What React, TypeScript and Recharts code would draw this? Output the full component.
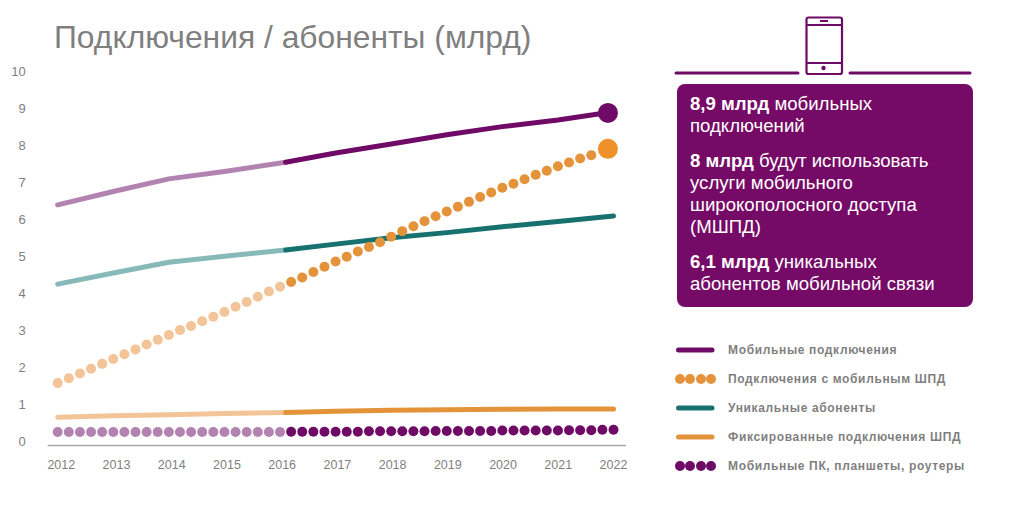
import { ComposedChart, Line, XAxis, YAxis, ReferenceDot } from "recharts";

const PURPLE = "#6F0B66";
const PURPLE_LIGHT = "#B283B0";
const ORANGE = "#E5933A";
const ORANGE_LIGHT = "#F2C497";
const TEAL = "#17716F";
const TEAL_LIGHT = "#86B9B8";
const GREY = "#7F7F7F";

const yearTicks = [2012, 2013, 2014, 2015, 2016, 2017, 2018, 2019, 2020, 2021, 2022];
const valueTicks = [0, 1, 2, 3, 4, 5, 6, 7, 8, 9, 10];

// yearly series (the colour changes just after 2016)
const lineYears = [2012, 2013, 2014, 2015, 2016.1, 2017, 2018, 2019, 2020, 2021, 2022];
const connections = [6.39, 6.75, 7.09, 7.29, 7.54, 7.79, 8.03, 8.28, 8.5, 8.68, 8.9];
const uniqueSubs = [4.25, 4.55, 4.84, 5.0, 5.17, 5.33, 5.5, 5.64, 5.8, 5.94, 6.09];
const fixedBroadband = [0.66, 0.7, 0.73, 0.76, 0.79, 0.82, 0.85, 0.865, 0.875, 0.88, 0.88];
const splitIndex = 4;

// dotted series, five readings per year
const dotYears = [
  2012, 2012.2, 2012.4, 2012.6, 2012.8, 2013, 2013.2, 2013.4, 2013.6, 2013.8,
  2014, 2014.2, 2014.4, 2014.6, 2014.8, 2015, 2015.2, 2015.4, 2015.6, 2015.8,
  2016, 2016.2, 2016.4, 2016.6, 2016.8, 2017, 2017.2, 2017.4, 2017.6, 2017.8,
  2018, 2018.2, 2018.4, 2018.6, 2018.8, 2019, 2019.2, 2019.4, 2019.6, 2019.8,
  2020, 2020.2, 2020.4, 2020.6, 2020.8, 2021, 2021.2, 2021.4, 2021.6, 2021.8, 2022,
];
const mobileBroadband = [
  1.58, 1.71, 1.84, 1.97, 2.1, 2.23, 2.36, 2.49, 2.62, 2.75,
  2.88, 3.01, 3.12, 3.25, 3.37, 3.5, 3.64, 3.77, 3.91, 4.05,
  4.18, 4.31, 4.43, 4.58, 4.72, 4.86, 4.99, 5.13, 5.25, 5.38,
  5.53, 5.68, 5.81, 5.95, 6.08, 6.21, 6.34, 6.47, 6.6, 6.72,
  6.85, 6.96, 7.08, 7.2, 7.31, 7.43, 7.53, 7.64, 7.73, null, null,
];
const mobilePc = [
  0.26, 0.26, 0.26, 0.26, 0.26, 0.26, 0.26, 0.26, 0.26, 0.26,
  0.26, 0.26, 0.26, 0.26, 0.26, 0.26, 0.26, 0.26, 0.26, 0.26,
  0.26, 0.27, 0.27, 0.27, 0.27, 0.27, 0.27, 0.27, 0.28, 0.28,
  0.28, 0.28, 0.28, 0.28, 0.29, 0.29, 0.29, 0.29, 0.29, 0.29,
  0.3, 0.3, 0.3, 0.3, 0.3, 0.3, 0.31, 0.31, 0.31, 0.32, 0.32,
];
const dotSplit = 21;

const endConnections = { x: 2021.9, y: 8.87 };
const endBroadband = { x: 2021.9, y: 7.9 };

const title = "Подключения / абоненты (млрд)";

const panelParagraphs = [
  { bold: "8,9 млрд", lines: [" мобильных", "подключений"] },
  { bold: "8 млрд", lines: [" будут использовать", "услуги мобильного", "широкополосного доступа", "(МШПД)"] },
  { bold: "6,1 млрд", lines: [" уникальных", "абонентов мобильной связи"] },
];

const legendItems = [
  { label: "Мобильные подключения", color: PURPLE, kind: "line" },
  { label: "Подключения с мобильным ШПД", color: ORANGE, kind: "dots" },
  { label: "Уникальные абоненты", color: TEAL, kind: "line" },
  { label: "Фиксированные подключения ШПД", color: ORANGE, kind: "line" },
  { label: "Мобильные ПК, планшеты, роутеры", color: PURPLE, kind: "dots" },
];

const pick = (arr: number[], i: number, from: number, to: number) => (i >= from && i <= to ? arr[i] : undefined);

const lineRows = lineYears.map((x, i) => ({
  x,
  connPast: pick(connections, i, 0, splitIndex),
  connNext: pick(connections, i, splitIndex, 99),
  subsPast: pick(uniqueSubs, i, 0, splitIndex),
  subsNext: pick(uniqueSubs, i, splitIndex, 99),
  fixedPast: pick(fixedBroadband, i, 0, splitIndex),
  fixedNext: pick(fixedBroadband, i, splitIndex, 99),
}));

const dotRows = dotYears.map((x, i) => ({
  x,
  mbbPast: i < dotSplit ? mobileBroadband[i] : null,
  mbbNext: i >= dotSplit ? mobileBroadband[i] : null,
  pcPast: i < dotSplit ? mobilePc[i] : null,
  pcNext: i >= dotSplit ? mobilePc[i] : null,
}));

const font = '"Liberation Sans"';

function YearTick(props: any) {
  const { x, y, payload } = props;
  // labels sit slightly tighter than the data positions
  const nudge = (2022 - payload.value) * 0.36;
  return (
    <text x={x + nudge} y={y} textAnchor="middle" dominantBaseline="central" fontSize={12.5} fill={GREY} fontFamily={font}>
      {payload.value}
    </text>
  );
}

function solid(key: string, color: string) {
  return (
    <Line
      key={key}
      data={lineRows}
      dataKey={key}
      stroke={color}
      strokeWidth={5}
      strokeLinecap="round"
      dot={false}
      activeDot={false}
      connectNulls={false}
      isAnimationActive={false}
    />
  );
}

function dotted(key: string, color: string) {
  return (
    <Line
      key={key}
      data={dotRows}
      dataKey={key}
      stroke="none"
      dot={{ r: 5, fill: color, stroke: "none" }}
      activeDot={false}
      isAnimationActive={false}
    />
  );
}

function Phone() {
  return (
    <svg width={1009} height={90} style={{ position: "absolute", left: 0, top: 0 }}>
      <g stroke={PURPLE} fill="none">
        <rect x={806.5} y={17.5} width={35.5} height={56.5} rx={2} strokeWidth={2.2} />
        <line x1={806} y1={25} x2={842} y2={25} strokeWidth={2} />
        <line x1={806} y1={63} x2={842} y2={63} strokeWidth={2} />
        <line x1={820} y1={21} x2={828} y2={21} strokeWidth={2} />
        <line x1={676} y1={73} x2={798} y2={73} strokeWidth={3} strokeLinecap="round" />
        <line x1={850} y1={73} x2={970} y2={73} strokeWidth={3} strokeLinecap="round" />
      </g>
      <circle cx={823.5} cy={68} r={2.2} fill={PURPLE} />
    </svg>
  );
}

function Panel() {
  return (
    <div
      style={{
        position: "absolute",
        left: 677,
        top: 84,
        width: 296,
        height: 223,
        boxSizing: "border-box",
        padding: "9px 0 0 13px",
        background: "#750B66",
        borderRadius: 8,
        color: "#fff",
        fontFamily: font,
        fontSize: 18.6,
        lineHeight: "22px",
      }}
    >
      {panelParagraphs.map((p) => (
        <div key={p.bold} style={{ marginBottom: 13 }}>
          {p.lines.map((l, i) => (
            <div key={l} style={{ whiteSpace: "pre" }}>
              {i === 0 ? <b>{p.bold}</b> : null}
              {l}
            </div>
          ))}
        </div>
      ))}
    </div>
  );
}

function LegendBlock() {
  return (
    <div style={{ position: "absolute", left: 675, top: 335 }}>
      {legendItems.map((item) => (
        <div key={item.label} style={{ display: "flex", alignItems: "center", height: 29.2 }}>
          <svg width={53} height={12}>
            {item.kind === "line" ? (
              <line x1={3.5} y1={6} x2={37} y2={6} stroke={item.color} strokeWidth={5} strokeLinecap="round" />
            ) : (
              [5, 15, 26, 36].map((cx) => <circle key={cx} cx={cx} cy={6} r={5} fill={item.color} />)
            )}
          </svg>
          <span style={{ fontFamily: font, fontWeight: 700, fontSize: 12, letterSpacing: 0.65, color: GREY, whiteSpace: "nowrap" }}>
            {item.label}
          </span>
        </div>
      ))}
    </div>
  );
}

export default function App() {
  return (
    <div style={{ position: "absolute", left: 0, top: 0, width: 1009, height: 512, background: "#fff" }}>
      <ComposedChart width={1009} height={512} margin={{ top: 71, right: 383, bottom: 26.6, left: 0 }}>
        <XAxis
          xAxisId={0}
          type="number"
          dataKey="x"
          domain={[2012, 2022]}
          ticks={yearTicks}
          padding={{ left: 10, right: 12.5 }}
          height={40}
          tickLine={false}
          axisLine={{ stroke: "#A6A6A6", strokeWidth: 1.5 }}
          tickSize={0}
          tick={<YearTick />}
          tickMargin={20}
          interval={0}
          allowDuplicatedCategory={false}
        />
        <YAxis
          yAxisId={0}
          type="number"
          domain={[-0.1, 10]}
          ticks={valueTicks}
          width={47.7}
          axisLine={false}
          tickLine={false}
          tickSize={0}
          tickMargin={22}
          interval={0}
          tick={{ fontSize: 13, fill: GREY, fontFamily: font }}
        />
        {dotted("pcPast", PURPLE_LIGHT)}
        {dotted("pcNext", PURPLE)}
        {dotted("mbbPast", ORANGE_LIGHT)}
        {dotted("mbbNext", ORANGE)}
        {solid("fixedPast", ORANGE_LIGHT)}
        {solid("fixedNext", ORANGE)}
        {solid("subsPast", TEAL_LIGHT)}
        {solid("subsNext", TEAL)}
        {solid("connPast", PURPLE_LIGHT)}
        {solid("connNext", PURPLE)}
        <ReferenceDot x={endConnections.x} y={endConnections.y} r={10} fill={PURPLE} stroke="none" />
        <ReferenceDot x={endBroadband.x} y={endBroadband.y} r={10} fill="#F09029" stroke="none" />
      </ComposedChart>
      <div
        style={{
          position: "absolute",
          left: 54,
          top: 19,
          fontFamily: font,
          fontSize: 31.8,
          lineHeight: "36px",
          color: GREY,
          whiteSpace: "nowrap",
        }}
      >
        {title}
      </div>
      <Phone />
      <Panel />
      <LegendBlock />
    </div>
  );
}
